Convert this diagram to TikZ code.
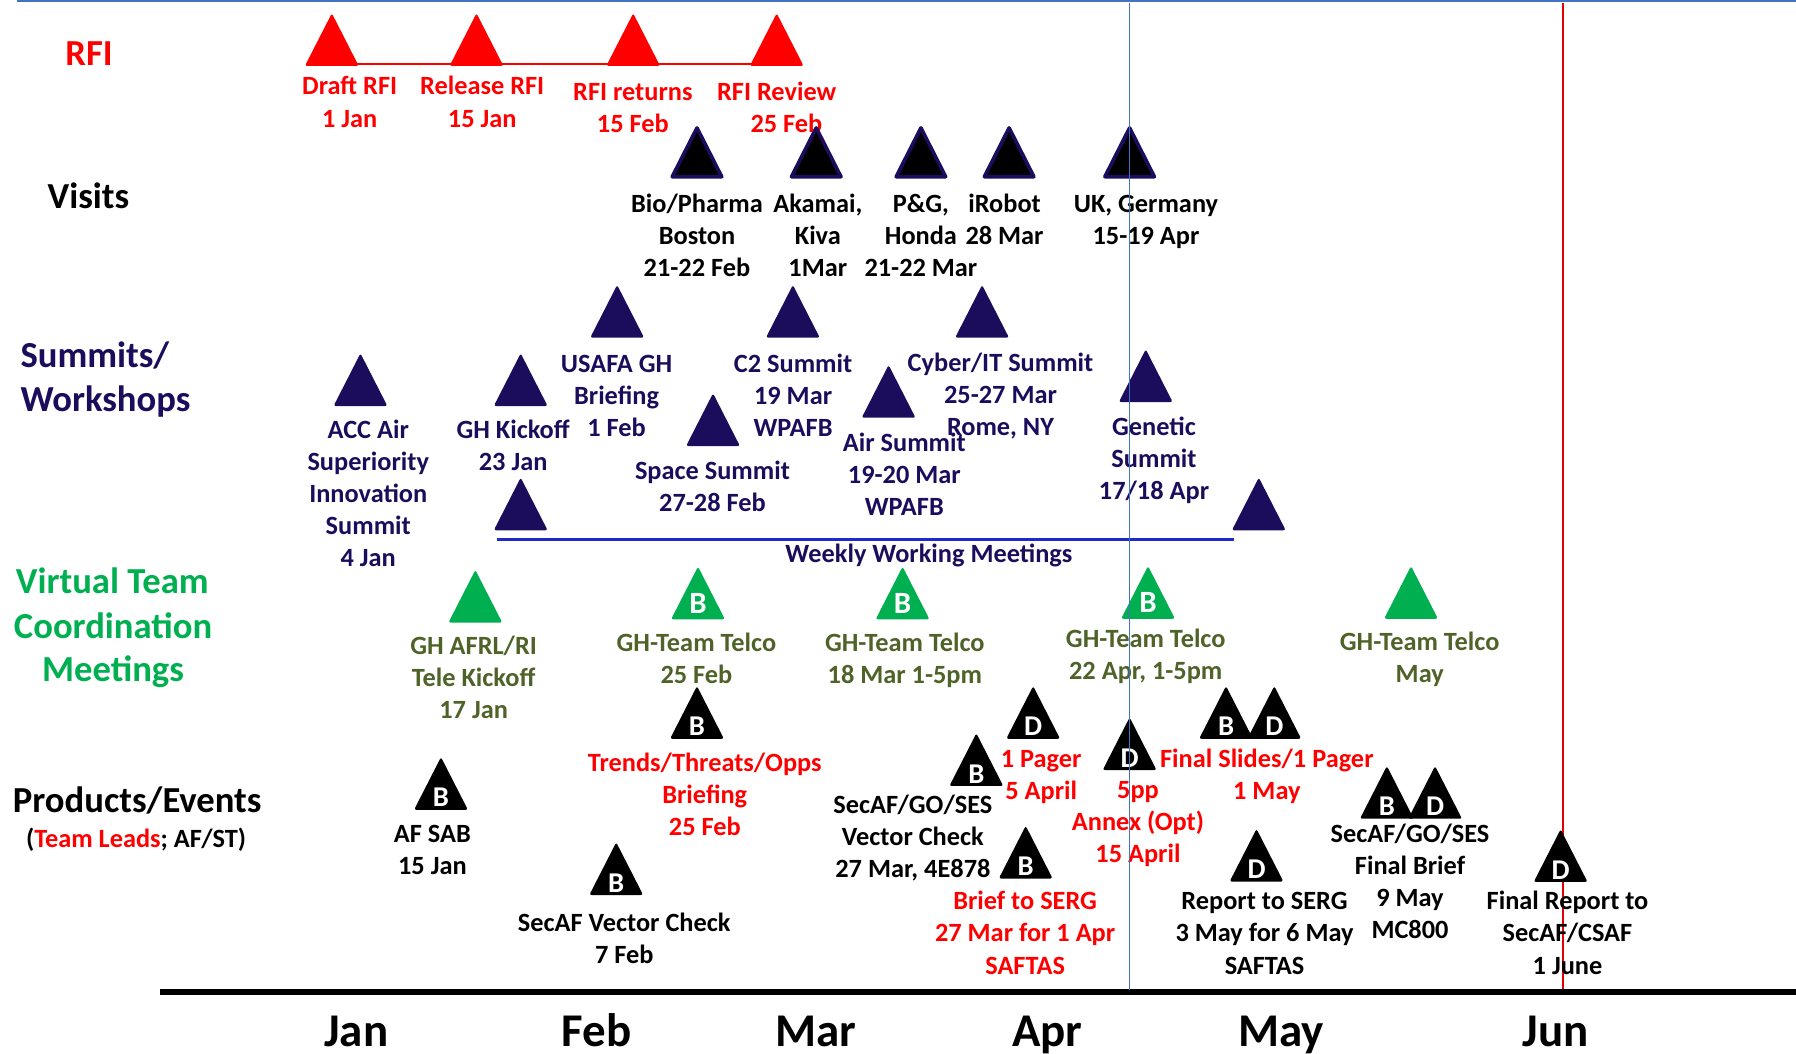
\documentclass[tikz,border=0pt]{standalone}
\usepackage{fontspec}
\setmainfont{Carlito}
\definecolor{navy}{RGB}{28,12,92}
\definecolor{vgreen}{HTML}{00B050}
\definecolor{olive}{HTML}{4F6228}
\definecolor{rfired}{HTML}{FF0000}
\definecolor{steel}{HTML}{4472C4}
\definecolor{wkblue}{RGB}{32,40,200}
\definecolor{vred}{RGB}{228,0,0}
\tikzset{
  lab/.style={font=\bfseries\fontsize{11.5}{14}\selectfont, align=center, inner sep=0pt, anchor=north},
  rowlab/.style={font=\bfseries\fontsize{16}{19.5}\selectfont, inner sep=0pt, anchor=base},
  monthlab/.style={font=\bfseries\fontsize{20.5}{24}\selectfont, inner sep=0pt, anchor=base},
  bl/.style={font=\bfseries\fontsize{12.5}{14}\selectfont, text=white, inner sep=0pt},
  gl/.style={font=\bfseries\fontsize{13.5}{14}\selectfont, text=white, inner sep=0pt},
  redtri/.style={fill=rfired, rounded corners=1pt},
  navytri/.style={fill=navy, rounded corners=1pt},
  greentri/.style={fill=vgreen, rounded corners=1pt},
  blacktri/.style={fill=black, rounded corners=1pt},
  visittri/.style={fill=black, draw=navy, line width=1.6pt, line join=round},
}
\newcommand{\mytri}[4]{\path[#4] (#2-23.5,#3+46) -- (#2,#3) -- (#2+23.5,#3+46) -- cycle; \coordinate (#1) at (#2,#3+44);}
\newcommand{\myvtri}[3]{\path[visittri] (#2-21.6,#3+44.3) -- (#2,#3+1.7) -- (#2+21.6,#3+44.3) -- cycle; \coordinate (#1) at (#2,#3+46);}
\newcommand{\mylbl}[5]{\node[lab,#1] (#2) at (#3,#4-18) {\rule{0pt}{9pt}#5};}
\begin{document}
\begin{tikzpicture}[x=0.5pt,y=-0.5pt]
\useasboundingbox (0,0) rectangle (1568,920);
% background lines
\coordinate (topL) at (15,0.8);
\coordinate (topR) at (1568,0.8);
\draw[steel, line width=0.7pt] (topL) -- (topR);
\coordinate (redT) at (1364.5,2.3);
\coordinate (redB) at (1364.5,864);
\draw[vred, line width=0.75pt] (redT) -- (redB);
\coordinate (axL) at (140,866);
\coordinate (axR) at (1568,866);
\draw[black, line width=2.5pt] (axL) -- (axR);

% row labels
\node[rowlab, text=rfired] (rRFI) at (77.7,57) {RFI};
\node[rowlab] (rVisits) at (77.2,182) {Visits};
\node[rowlab, text=navy, anchor=base west] (rSumm1) at (17.5,321) {Summits/};
\node[rowlab, text=navy, anchor=base west] (rSumm2) at (17.5,359) {Workshops};
\node[rowlab, text=vgreen] (rVT1) at (98,518) {Virtual Team};
\node[rowlab, text=vgreen] (rVT2) at (98.7,557.3) {Coordination};
\node[rowlab, text=vgreen] (rVT3) at (98.7,595.2) {Meetings};
\node[rowlab] (rProd) at (119.8,709) {Products/Events};
\node[rowlab, font=\bfseries\fontsize{11.5}{14}\selectfont] (rLeads) at (118.8,740) {(\textcolor{rfired}{Team Leads}; AF/ST)};

% months
\node[monthlab] (mJan) at (311,914) {Jan};
\node[monthlab] (mFeb) at (521,914) {Feb};
\node[monthlab] (mMar) at (712.5,914) {Mar};
\node[monthlab] (mApr) at (914.5,914) {Apr};
\node[monthlab] (mMay) at (1118.5,914) {May};
\node[monthlab] (mJun) at (1358,914) {Jun};

% RFI
\mytri{rf1}{289.7}{11.6}{redtri}
\mytri{rf2}{416}{11.6}{redtri}
\mytri{rf3}{552.8}{11.6}{redtri}
\mytri{rf4}{678.1}{11.6}{redtri}
\draw[rfired, line width=1pt] (rf1) -- (rf2) -- (rf3) -- (rf4);
\mylbl{text=rfired}{lDraft}{305.3}{82.5}{Draft RFI\\1 Jan}
\mylbl{text=rfired}{lRelease}{421}{82.5}{Release RFI\\15 Jan}
\mylbl{text=rfired}{lReturns}{552.5}{87.3}{RFI returns\\15 Feb}
\mylbl{text=rfired}{lReview}{678.1}{87.3}{RFI Review\\\hspace*{8.5pt}25 Feb}

% Visits
\myvtri{v1}{608.5}{110}
\myvtri{v2}{712.6}{110}
\myvtri{v3}{804}{110}
\myvtri{v4}{881}{110}
\myvtri{v5}{986.2}{110}
\mylbl{}{lBio}{608.5}{185}{Bio/Pharma\\Boston\\21-22 Feb}
\mylbl{}{lAkamai}{714}{185}{Akamai,\\Kiva\\1Mar}
\mylbl{}{lPG}{804}{185}{P\&G,\\Honda\\21-22 Mar}
\mylbl{}{lIRobot}{877}{185}{iRobot\\28 Mar}
\mylbl{}{lUK}{1000.5}{185}{UK, Germany\\15-19 Apr}

% Summits / Workshops
\mytri{s1}{314.7}{308.5}{navytri}
\mytri{s2}{454.6}{308.5}{navytri}
\mytri{s3}{538.8}{248.8}{navytri}
\mytri{s4}{692.2}{248.8}{navytri}
\mytri{s5}{622.5}{343.4}{navytri}
\mytri{s6}{775.8}{318.7}{navytri}
\mytri{s7}{857.4}{248.8}{navytri}
\mytri{s8}{1000.3}{305}{navytri}
\mytri{wk1}{454.6}{417}{navytri}
\mytri{wk2}{1099}{417}{navytri}
\coordinate (wkA) at (433.5,471);
\coordinate (wkB) at (1077.5,471);
\draw[wkblue, line width=1pt] (wkA) -- (wkB);
\mylbl{text=navy}{lACC}{321.5}{382}{ACC Air\\Superiority\\Innovation\\Summit\\4 Jan}
\mylbl{text=navy}{lKick}{448}{382}{GH Kickoff\\23 Jan}
\mylbl{text=navy}{lUSAFA}{538.3}{324.5}{USAFA GH\\Briefing\\1 Feb}
\mylbl{text=navy}{lC2}{692.4}{324.5}{C2 Summit\\19 Mar\\WPAFB}
\mylbl{text=navy}{lSpace}{622}{418.2}{Space Summit\\27-28 Feb}
\mylbl{text=navy}{lAir}{789.5}{393.5}{Air Summit\\19-20 Mar\\WPAFB}
\mylbl{text=navy}{lCyber}{873.5}{324}{Cyber/IT Summit\\25-27 Mar\\Rome, NY}
\mylbl{text=navy}{lGenetic}{1007.5}{380}{Genetic\\Summit\\17/18 Apr}
\mylbl{text=navy}{lWeekly}{811}{490.4}{Weekly Working Meetings}

% Virtual team coordination meetings
\mytri{g1}{415}{497.6}{greentri}
\mytri{g2}{609.4}{494.7}{greentri}
\mytri{g3}{788}{494.7}{greentri}
\mytri{g4}{1002.3}{494.2}{greentri}
\mytri{g5}{1231.9}{494.2}{greentri}
\node[gl] (g2L) at (609.4,494.7+32) {B};
\node[gl] (g3L) at (788,494.7+32) {B};
\node[gl] (g4L) at (1002.3,494.2+32) {B};
\mylbl{text=olive}{lAFRL}{413.5}{571.3}{GH AFRL/RI\\Tele Kickoff\\17 Jan}
\mylbl{text=olive}{lTelco1}{608}{568}{GH-Team Telco\\25 Feb}
\mylbl{text=olive}{lTelco2}{790}{568}{GH-Team Telco\\18 Mar 1-5pm}
\mylbl{text=olive}{lTelco3}{1000.3}{565.2}{GH-Team Telco\\22 Apr, 1-5pm}
\mylbl{text=olive}{lTelco4}{1239.5}{567.5}{GH-Team Telco\\May}

% Products / Events
\mytri{p1}{385}{661}{blacktri}
\node[bl] (p1L) at (385,661+35.4) {B};
\mytri{p2}{608.5}{599}{blacktri}
\node[bl] (p2L) at (608.5,599+35.4) {B};
\mytri{p3}{538}{735.4}{blacktri}
\node[bl] (p3L) at (538,735.4+35.4) {B};
\mytri{p4}{852.4}{640.2}{blacktri}
\node[bl] (p4L) at (852.4,640.2+35.4) {B};
\mytri{p5}{902}{599}{blacktri}
\node[bl] (p5L) at (902,599+35.4) {D};
\mytri{p6}{986.2}{626.3}{blacktri}
\node[bl] (p6L) at (986.2,626.3+35.4) {D};
\mytri{p7}{1070.4}{599}{blacktri}
\mytri{p8}{1112.5}{599}{blacktri}
\node[bl] (p7L) at (1070.4,599+35.4) {B};
\node[bl] (p8L) at (1112.5,599+35.4) {D};
\mytri{p9}{895.5}{721}{blacktri}
\node[bl] (p9L) at (895.5,721+35.4) {B};
\mytri{p10}{1097}{723.7}{blacktri}
\node[bl] (p10L) at (1097,723.7+35.4) {D};
\mytri{p11}{1210.8}{668.8}{blacktri}
\mytri{p12}{1252.9}{668.8}{blacktri}
\node[bl] (p11L) at (1210.8,668.8+35.4) {B};
\node[bl] (p12L) at (1252.9,668.8+35.4) {D};
\mytri{p13}{1362.5}{724}{blacktri}
\node[bl] (p13L) at (1362.5,724+35.4) {D};

\mylbl{}{lAFSAB}{377.5}{735}{AF SAB\\15 Jan}
\mylbl{text=rfired}{lTrends}{615.3}{673}{Trends/Threats/Opps\\Briefing\\25 Feb}
\mylbl{}{lSecAFVC}{545}{812.5}{SecAF Vector Check\\7 Feb}
\mylbl{}{lGOSES}{797}{710}{SecAF/GO/SES\\Vector Check\\27 Mar, 4E878}
\mylbl{text=rfired}{lPager}{909}{669.5}{1 Pager\\5 April}
\mylbl{text=rfired}{lFivePP}{993.5}{697}{5pp\\Annex (Opt)\\15 April}
\mylbl{text=rfired}{lFinalSlides}{1106}{669.5}{Final Slides/1 Pager\\1 May}
\mylbl{text=rfired}{lBriefSERG}{895}{794}{Brief to SERG\\27 Mar for 1 Apr\\SAFTAS}
\mylbl{}{lReportSERG}{1104}{794}{Report to SERG\\3 May for 6 May\\SAFTAS}
\mylbl{}{lFinalBrief}{1231}{735}{SecAF/GO/SES\\Final Brief\\9 May\\MC800}
\mylbl{}{lFinalReport}{1368.5}{794}{Final Report to\\SecAF/CSAF\\1 June}

% blue "today" line on top
\coordinate (blT) at (986,2.3);
\coordinate (blB) at (986,864);
\draw[steel, line width=0.6pt] (blT) -- (blB);
\end{tikzpicture}
\end{document}
